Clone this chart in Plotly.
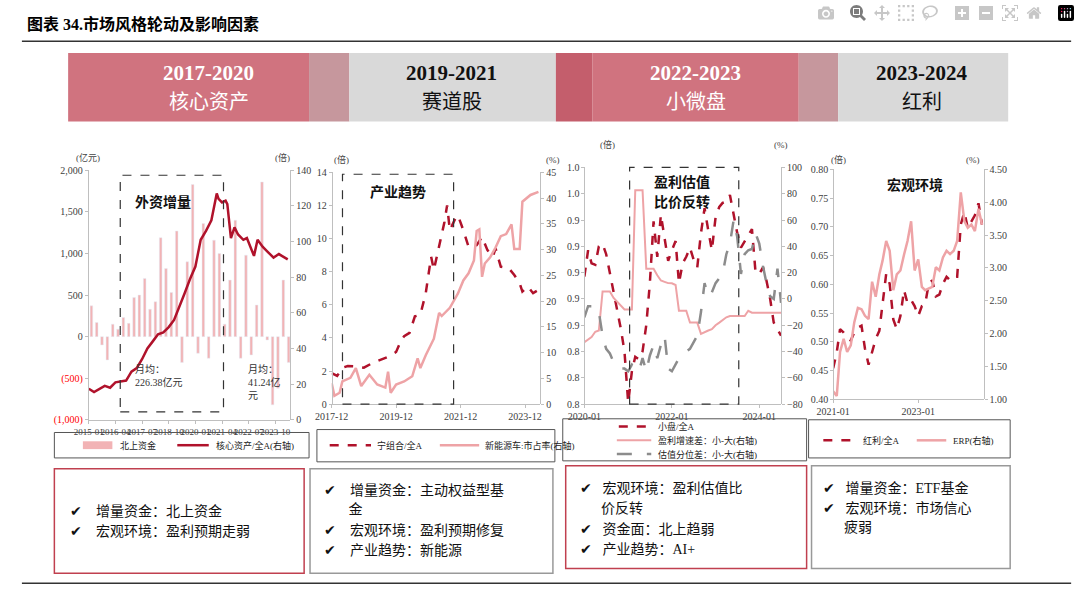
import pandas as pd
import plotly.graph_objects as go

W, H = 1080, 596
DARK = "#b0122b"
PINK = "#eea3a6"
GRAY = "#8c8c8c"
FONT = "Liberation Serif, Noto Sans CJK SC"

# ---- chart 1: 北上资金 (quarterly, 亿元) & 核心资产/全A
q_dates = pd.date_range("2015-01-01", periods=38, freq="QS") + pd.Timedelta(days=45)
north_flow = [370, 170, -100, -280, 150, 90, 230, 160, 470, 500, 700, 330, 420, 1190,
              820, 530, 1270, -310, 900, 1830, -200, 1360, -260, 1160, 1000, 150, 680,
              1400, -260, 980, -220, 380, 1860, -40, -820, -620, 680, -310]
core_dates = ["2015-01", "2015-04", "2015-10", "2016-01", "2016-04", "2016-10", "2017-01",
              "2017-04", "2017-07", "2017-10", "2018-01", "2018-04", "2018-07", "2018-10",
              "2019-01", "2019-04", "2019-07", "2019-10", "2020-01", "2020-04", "2020-07",
              "2020-10", "2021-01", "2021-02", "2021-04", "2021-06", "2021-07", "2021-09",
              "2021-11", "2022-01", "2022-04", "2022-06", "2022-08", "2022-10", "2022-12",
              "2023-03", "2023-06", "2023-09", "2023-12", "2024-03", "2024-05"]
core_ratio = [17.4, 15.5, 19, 18, 21, 22, 27, 29, 34, 40, 44, 48, 49, 52, 56, 64, 71, 79,
              86, 101, 106, 112, 127, 124, 122, 123, 121, 102, 108, 104, 101, 102, 97, 92,
              101, 97, 94, 91, 93, 91, 90]

# ---- chart 2: 宁组合/全A & 新能源车市占率
ning_dates = ["2017-12", "2018-02", "2018-04", "2018-06", "2018-09", "2018-12", "2019-03",
              "2019-06", "2019-09", "2019-12", "2020-02", "2020-03", "2020-05", "2020-07",
              "2020-09", "2020-11", "2021-01", "2021-02", "2021-04", "2021-06", "2021-07",
              "2021-08", "2021-10", "2021-11", "2022-01", "2022-03", "2022-06", "2022-08",
              "2022-10", "2022-12", "2023-01", "2023-03", "2023-06", "2023-08", "2023-10",
              "2023-11", "2024-01", "2024-03", "2024-05"]
ning_ratio = [1.87, 1.7, 2.2, 2.3, 2.27, 2.2, 2.46, 2.66, 2.86, 3.15, 3.9, 4.1, 4.3, 5.3,
              5.4, 6.7, 8.9, 8.1, 9.5, 11.0, 12.0, 10.5, 11.2, 11.4, 10.5, 9.5, 9.6, 10.1,
              9.3, 8.9, 9.4, 8.3, 8.2, 7.8, 7.3, 6.8, 7.1, 6.7, 6.9]
nev_dates = ["2017-12", "2018-01", "2018-03", "2018-04", "2018-07", "2018-09", "2018-11",
             "2019-02", "2019-05", "2019-08", "2019-09", "2019-10", "2019-12", "2020-03",
             "2020-06", "2020-08", "2020-09", "2020-11", "2021-02", "2021-04", "2021-05",
             "2021-08", "2021-11", "2022-01", "2022-03", "2022-05", "2022-06", "2022-07",
             "2022-08", "2022-09", "2022-11", "2023-01", "2023-03", "2023-05", "2023-07",
             "2023-08", "2023-10", "2023-11", "2024-02", "2024-05"]
nev_share = [4.1, 1.6, 2.2, 4.4, 5.1, 7.0, 3.5, 5.7, 3.8, 3.2, 6.3, 2.2, 3.8, 4.4, 5.4,
             8.9, 7.0, 9.5, 12.7, 17.7, 17.1, 18.7, 21.5, 24.0, 25.4, 27.9, 33.6, 33.9,
             24.7, 27.3, 28.5, 30.4, 32.6, 33.0, 34.9, 30.1, 30.1, 39.3, 40.6, 41.2]

# ---- chart 3: 小盘/全A, 盈利增速差, 估值分位差 (monthly from 2020-01)
m3_dates = pd.date_range("2020-01-01", periods=55, freq="MS")
small_ratio = [.897, .917, .907, .906, .920, .922, .914, .900, .885, .870, .857, .840, .801,
               .825, .836, .834, .840, .860, .892, .939, .912, .944, .925, .909, .917, .924,
               .892, .907, .912, .919, .910, .904, .930, .949, .932, .917, .942, .950, .953,
               .954, .959, .945, .930, .919, .924, .928, .933, .900, .899, .904, .894, .880,
               .862, .857, .852]
profit_gap = [-33, -31, -29, -25, -24, 5.7, 5.7, 5.7, 0.7, -2, -5, -8, -8, -8, 82.6, 82.6,
              82.6, 23, 23, 23, 18, 14, 13, 12, 11.9, 10.6, -9, -9, -9, -18, -18, -18, -26.6,
              -25, -24, -23, -20, -18, -16, -14, -13, -13, -13, -13, -13, -9, -10.5, -10.5,
              -10.5, -10.5, -10.5, -10.5, -10.5, -10.5, -10.5]
val_gap = [-14, -5.5, -5.5, -5.5, -10, -28, -38, -41.5, -48, -50, -53, -53, -55, -50, -53,
           -55, -45, -55, -43, -35, -45, -35, -28, -53, -55, -50, -45, -43, -40, -38, -33,
           -28, -10, 12, 2, 5, 12, 16, 19, 34, 42, 60, 47, 19, 34, 37, 38, 50, 42, 25, 12,
           2, 0, 23, -3]

# ---- chart 4: 红利/全A & ERP (monthly from 2021-01)
m4_dates = pd.date_range("2021-01-01", periods=43, freq="MS")
div_ratio = [.454, .482, .522, .516, .508, .502, .516, .525, .528, .488, .460, .482, .505,
             .519, .562, .618, .601, .539, .522, .545, .590, .567, .573, .562, .545, .562,
             .565, .601, .607, .579, .582, .601, .613, .607, .613, .613, .704, .726, .698,
             .709, .720, .741, .704]
erp = [1.12, 1.05, 1.72, 1.92, 1.72, 1.82, 2.17, 2.39, 2.37, 2.27, 2.22, 2.79, 2.56, 2.9,
       3.11, 3.41, 3.26, 2.66, 2.9, 2.96, 3.2, 3.41, 3.71, 2.96, 3.13, 2.71, 2.66, 2.68,
       2.71, 3.01, 2.96, 3.16, 3.26, 3.21, 3.26, 3.41, 4.15, 3.71, 3.61, 3.66, 3.56, 3.9,
       3.66]

periods = ["2017-2020", "2019-2021", "2022-2023", "2023-2024"]
styles = ["核心资产", "赛道股", "小微盘", "红利"]


def px(x):
    return x / W


def py(y):
    return 1 - y / H


fig = go.Figure()
fig.add_trace(go.Bar(x=q_dates, y=north_flow, marker_color="#f2b3b5", xaxis="x", yaxis="y",
                     width=1000 * 3600 * 24 * 45))
fig.add_trace(go.Scatter(x=core_dates, y=core_ratio, mode="lines", line=dict(color=DARK, width=2.5),
                         xaxis="x", yaxis="y2"))
fig.add_trace(go.Scatter(x=ning_dates, y=ning_ratio, mode="lines",
                         line=dict(color=DARK, width=2.5, dash="dash"), xaxis="x2", yaxis="y3"))
fig.add_trace(go.Scatter(x=nev_dates, y=nev_share, mode="lines", line=dict(color=PINK, width=2.5),
                         xaxis="x2", yaxis="y4"))
fig.add_trace(go.Scatter(x=m3_dates, y=small_ratio, mode="lines",
                         line=dict(color=DARK, width=2.5, dash="dash"), xaxis="x3", yaxis="y5"))
fig.add_trace(go.Scatter(x=m3_dates, y=profit_gap, mode="lines", line=dict(color=PINK, width=2),
                         xaxis="x3", yaxis="y6"))
fig.add_trace(go.Scatter(x=m3_dates, y=val_gap, mode="lines",
                         line=dict(color=GRAY, width=2.5, dash="longdash"), xaxis="x3", yaxis="y6"))
fig.add_trace(go.Scatter(x=m4_dates, y=div_ratio, mode="lines",
                         line=dict(color=DARK, width=2.5, dash="dash"), xaxis="x4", yaxis="y7"))
fig.add_trace(go.Scatter(x=m4_dates, y=erp, mode="lines", line=dict(color=PINK, width=2.5),
                         xaxis="x4", yaxis="y8"))

tick = dict(family=FONT, size=10, color="#404040")
ax = dict(showgrid=False, zeroline=False, showline=True, linecolor="#bfbfbf",
          ticks="outside", ticklen=3, tickcolor="#bfbfbf", tickfont=tick)


def xax(x0, x1, y1, rng, tv, tt):
    return dict(ax, domain=[px(x0), px(x1)], anchor="free", position=py(y1), range=rng,
                tickvals=tv, ticktext=tt, type="date", tickangle=0)


def yax(y0, y1, x, rng, dtick, side="left", fmt=None, overlay=None, tv=None, tt=None):
    d = dict(ax, domain=[py(y1), py(y0)], range=rng, dtick=dtick, side=side,
             anchor="free", position=px(x))
    if fmt:
        d["tickformat"] = fmt
    if overlay:
        d["overlaying"] = overlay
    if tv:
        d.update(tickvals=tv, ticktext=tt, tickmode="array")
    return d


t1 = ["2015-01", "2016-04", "2017-07", "2018-10", "2020-01", "2021-04", "2022-07", "2023-10"]
t2 = ["2017-12", "2019-12", "2021-12", "2023-12"]
t3 = ["2020-01", "2022-01", "2024-01"]
t4 = ["2021-01", "2023-01"]
neg = "<span style='color:red'>%s</span>"
fig.update_layout(
    xaxis=dict(xax(72, 278, 423, ["2014-12-15", "2024-06-15"], t1, t1), tickfont=dict(tick, size=9)),
    yaxis=yax(168, 423, 72, [-1000, 2000], None, tv=[-1000, -500, 0, 500, 1000, 1500, 2000],
              tt=[neg % "(1,000)", neg % "(500)", "0", "500", "1,000", "1,500", "2,000"]),
    yaxis2=yax(168, 423, 278, [0, 140], 20, "right", overlay="y"),
    xaxis2=xax(320, 532, 407, ["2017-12-01", "2024-05-20"], t2, t2),
    yaxis3=yax(170, 407, 320, [0, 14], 2),
    yaxis4=yax(170, 407, 532, [0, 45], 5, "right", overlay="y3"),
    xaxis3=xax(577, 777, 407, ["2020-01-01", "2024-07-01"], t3, t3),
    yaxis5=yax(165, 407, 577, [0.80, 0.98], 0.02, fmt=".1f"),
    yaxis6=yax(165, 407, 777, [-80, 100], 20, "right", overlay="y5"),
    xaxis4=xax(830, 983, 402, ["2021-01-01", "2024-07-15"], t4, t4),
    yaxis7=yax(167, 402, 830, [0.40, 0.80], 0.05, fmt=".2f"),
    yaxis8=yax(167, 402, 983, [1.0, 4.5], 0.5, "right", fmt=".2f", overlay="y7"),
    autosize=True, margin=dict(l=0, r=0, t=0, b=0, pad=0), showlegend=False,
    plot_bgcolor="white", paper_bgcolor="white", font=dict(family=FONT, color="#222"),
)

shapes, notes = [], []


def rect(x0, y0, x1, y1, fill=None, line=None, dash=None, w=1):
    shapes.append(dict(type="rect", xref="paper", yref="paper", x0=px(x0), x1=px(x1),
                       y0=py(y1), y1=py(y0), fillcolor=fill or "rgba(0,0,0,0)",
                       line=dict(color=line or "rgba(0,0,0,0)", width=w, dash=dash), layer="below"
                       if fill else "above"))


def hline(x0, x1, y, color, w=2, dash=None):
    shapes.append(dict(type="line", xref="paper", yref="paper", x0=px(x0), x1=px(x1),
                       y0=py(y), y1=py(y), line=dict(color=color, width=w, dash=dash)))


def text(x, y, s, size=10, color="#222", anchor="left", bold=False):
    if bold:
        s = "<b>%s</b>" % s
    notes.append(dict(x=px(x), y=py(y), xref="paper", yref="paper", text=s, showarrow=False,
                      xanchor=anchor, yanchor="middle", align=anchor if anchor != "center" else "center",
                      font=dict(family=FONT, size=size, color=color)))


# title and rules
text(8, 18, "图表 34.市场风格轮动及影响因素", 16, "#000", bold=True)
hline(5, 1072, 36, "#333", 1.5)
hline(5, 1072, 590, "#333", 1.5)

# header band
bands = [(52, 297, "#d0737f"), (297, 338, "#c6979d"), (338, 548, "#d9d9d9"),
         (548, 585, "#c45e6c"), (585, 795, "#d0737f"), (795, 835, "#c6979d"), (835, 1008, "#d9d9d9")]
for x0, x1, c in bands:
    rect(x0, 48, x1, 118, fill=c)
centers = [195, 442, 690, 920]
cols = ["white", "#111", "white", "#111"]
for cx, p, s, c in zip(centers, periods, styles, cols):
    text(cx, 69, p, 21, c, "center", bold=True)
    text(cx, 98, s, 20, c, "center")

# chart 1 decorations
rect(105, 173, 210, 415, line="#333", dash="dash", w=1.2)
text(148, 200, "外资增量", 14, "#111", "center", bold=True)
text(118, 378, "月均：<br>226.38亿元", 10, "#333")
text(233, 385, "月均：<br>41.24亿<br>元", 10, "#333")
text(72, 155, "(亿元)", 9, "#444", "center")
text(270, 155, "(倍)", 9, "#444", "center")
rect(38, 436, 297, 462, line="#555")
rect(67, 445, 97, 453, fill="#f2b3b5")
text(103, 449, "北上资金", 9)
hline(163, 195, 449, DARK, 2.5)
text(200, 449, "核心资产/全A(右轴)", 9)

# chart 2 decorations
rect(331, 172, 444, 407, line="#333", dash="dash", w=1.2)
text(387, 190, "产业趋势", 14, "#111", "center", bold=True)
text(330, 157, "(倍)", 9, "#444", "center")
text(545, 157, "(%)", 9, "#444", "center")
rect(305, 433, 547, 466, line="#555")
hline(318, 360, 449, DARK, 2.5, "dash")
text(364, 449, "宁组合/全A", 9)
hline(430, 470, 449, PINK, 2.5)
text(474, 449, "新能源车:市占率(右轴)", 9)

# chart 3 decorations
rect(623, 165, 734, 407, line="#333", dash="dash", w=1.2)
text(676, 180, "盈利估值", 14, "#111", "center", bold=True)
text(676, 200, "比价反转", 14, "#111", "center", bold=True)
text(600, 142, "(倍)", 9, "#444", "center")
text(777, 142, "(%)", 9, "#444", "center")
rect(555, 422, 803, 465, line="#555")
hline(612, 645, 430, DARK, 2.5, "dash")
text(650, 430, "小盘/全A", 9)
hline(610, 645, 444, PINK, 2)
text(650, 444, "盈利增速差：小-大(右轴)", 9)
hline(610, 645, 458, GRAY, 2.5, "longdash")
text(650, 458, "估值分位差：小-大(右轴)", 9)

# chart 4 decorations
text(913, 183, "宏观环境", 14, "#111", "center", bold=True)
text(835, 157, "(倍)", 9, "#444", "center")
text(972, 157, "(%)", 9, "#444", "center")
rect(805, 423, 1010, 462, line="#555")
hline(820, 852, 444, DARK, 2.5, "dash")
text(858, 444, "红利/全A", 9)
hline(915, 945, 444, PINK, 2.5)
text(950, 444, "ERP(右轴)", 9)

# bottom boxes
rect(38, 473, 292, 580, line="#c0404f", w=1.5)
rect(298, 473, 545, 580, line="#999", w=1.5)
rect(558, 470, 803, 575, line="#c0404f", w=1.5)
rect(808, 470, 1010, 575, line="#999", w=1.5)
box_text = [
    (52, [(517, "✔    增量资金：北上资金"), (537, "✔    宏观环境：盈利预期走弱")]),
    (310, [(495, "✔    增量资金：主动权益型基"), (515, "       金"),
           (536, "✔    宏观环境：盈利预期修复"), (557, "✔    产业趋势：新能源")]),
    (570, [(493, "✔   宏观环境：盈利估值比"), (514, "      价反转"),
           (535, "✔   资金面：北上趋弱"), (556, "✔   产业趋势：AI+")]),
    (818, [(493, "✔   增量资金：ETF基金"), (513, "✔   宏观环境：市场信心"), (533, "      疲弱")]),
]
for x, rows in box_text:
    for y, s in rows:
        text(x, y, s, 14, "#111")

fig.update_layout(shapes=shapes, annotations=notes)
fig.write_html("out.html", default_width="100vw", default_height="100vh",
               post_script="document.body.style.margin='0';document.body.style.overflow='hidden';")
